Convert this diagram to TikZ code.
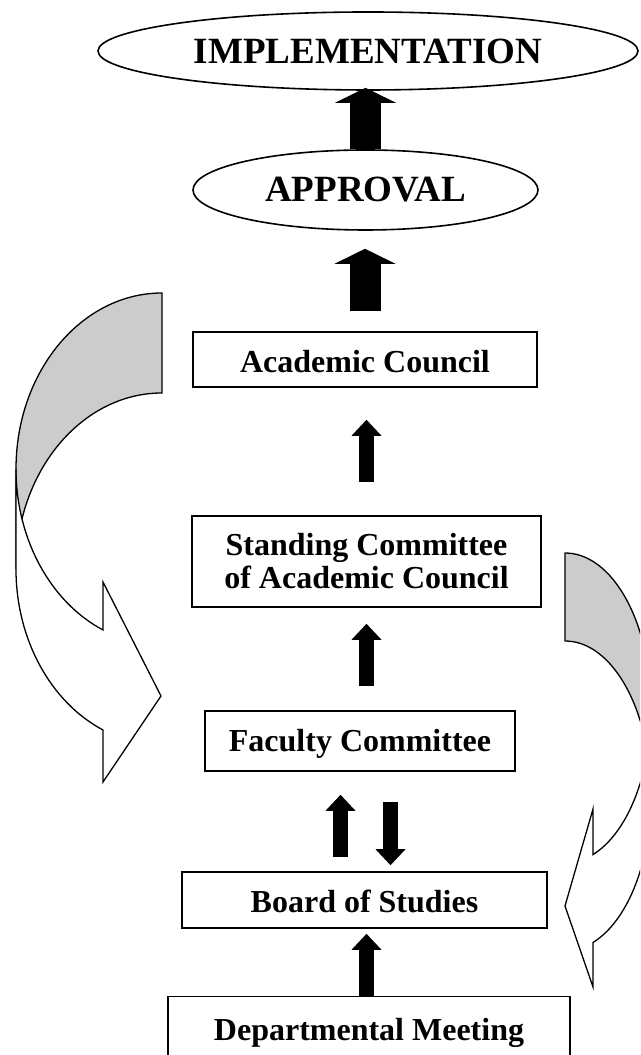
\documentclass[tikz,border=0pt]{standalone}
\usepackage{fontspec}
\setmainfont{Liberation Serif}
\usepackage{tikz}
\usetikzlibrary{positioning}
\usetikzlibrary{shapes.geometric}
\usetikzlibrary{arrows.meta}
\tikzset{
    stage/.style = {rectangle, draw, line width=1.6pt, inner sep=0pt,
        font=\bfseries\fontsize{32}{33}\selectfont},
    oneline/.style = {stage, text height=22pt, text depth=0pt},
    goal/.style = {ellipse, draw, line width=1.6pt, inner sep=0pt,
        font=\bfseries\fontsize{37}{40}\selectfont}}

\begin{document}
\begin{tikzpicture}[x=1pt, y=1pt, on grid,
    bigarrow/.style = {line width=31pt, -{Triangle[length=15pt, width=61pt, line width=0pt]}},
    smallarrow/.style = {line width=15pt, -{Triangle[length=16pt, width=30pt, line width=0pt]}},
    backband/.style = {draw, line width=1.3pt, fill=black!20},
    frontband/.style = {draw, line width=1.3pt, fill=white}
    ]
    \useasboundingbox (0,0) rectangle (640,1055);
    \clip (0,0) rectangle (640,1055);
    \node (impl) [goal, minimum width=540pt, minimum height=78pt] at (368,1004) {IMPLEMENTATION};
    \node (appr) [goal, minimum width=345pt, minimum height=80pt, below = 139pt of impl, xshift=-2.5pt] {APPROVAL};
    \node (ac) [oneline, text height=27pt, minimum width=344pt, minimum height=55pt, below = 169.5pt of appr, xshift=-0.5pt] {Academic Council};
    \node (scac) [stage, align=center, minimum width=349pt, minimum height=91pt, below = 202pt of ac, xshift=1.5pt] {Standing Committee\\of Academic Council};
    \node (fc) [oneline, minimum width=310pt, minimum height=60pt, below = 179.5pt of scac, xshift=-6.5pt] {Faculty Committee};
    \node (bos) [oneline, text height=26pt, minimum width=365pt, minimum height=56pt, below = 159pt of fc, xshift=4.5pt] {Board of Studies};
    \node (dm) [oneline, minimum width=402pt, minimum height=66pt, below = 129.5pt of bos, xshift=4.5pt] {Departmental Meeting};
    \draw[bigarrow, shorten >=-3pt] (appr.north) -- (appr.north |- impl.south);
    \draw[bigarrow, shorten <=20pt, shorten >=18pt] (ac.north) -- (ac.north |- appr.south);
    \draw[smallarrow, shorten <=33pt, shorten >=32pt] (scac.north) -- (scac.north |- ac.south);
    \draw[smallarrow, shorten <=24pt, shorten >=16pt] (fc.north -| scac.south) -- (scac.south);
    \draw[smallarrow, shorten <=14pt, shorten >=23pt] ([xshift=-24pt]bos.north) -- ([xshift=-24pt]bos.north |- fc.south);
    \draw[smallarrow, shorten <=30pt, shorten >=6pt] ([xshift=26pt]bos.north |- fc.south) -- ([xshift=26pt]bos.north);
    \draw[smallarrow, shorten >=5pt] ([xshift=2pt]bos.south |- dm.north) -- ([xshift=2pt]bos.south);
    % left loop
    \draw[backband] (162,762) arc[start angle=90, end angle=180, x radius=146, y radius=176]
        -- (16,486) arc[start angle=180, end angle=90, x radius=146, y radius=176] -- cycle;
    \draw[frontband] (16,586) arc[start angle=180, end angle=246.17, x radius=146, y radius=176]
        -- (103,473) -- (161,359) -- (103,273) -- (103,325)
        arc[start angle=246.17, end angle=180, x radius=146, y radius=176] -- cycle;
    % right loop
    \draw[backband] (565,502) arc[start angle=90, end angle=0, x radius=86, y radius=155]
        -- (651,259) arc[start angle=0, end angle=90, x radius=86, y radius=155] -- cycle;
    \draw[frontband] (651,347) arc[start angle=0, end angle=-71, x radius=86, y radius=155]
        -- (593,246) -- (565,149) -- (593,68) -- (593,112.5)
        arc[start angle=-71, end angle=0, x radius=86, y radius=155] -- cycle;
\end{tikzpicture}
\end{document}
